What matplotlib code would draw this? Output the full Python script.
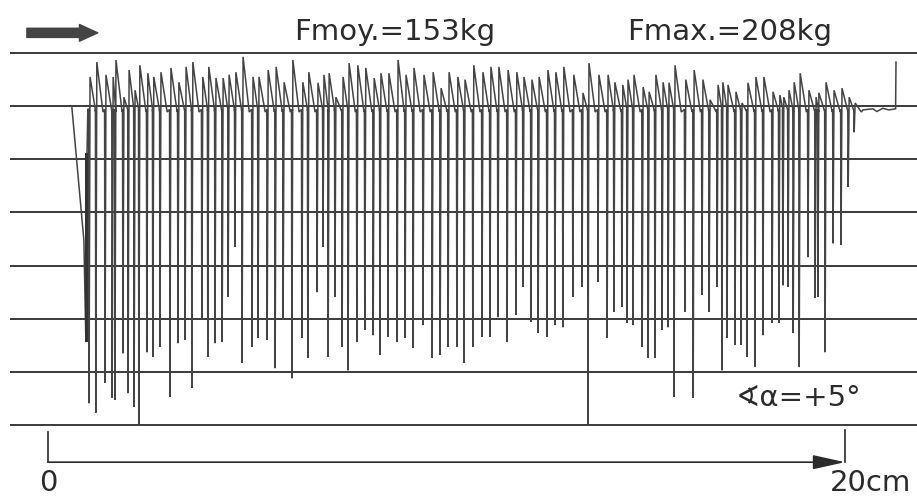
#Force trace recreated from a strip chart recording
import numpy as np
import matplotlib
matplotlib.use('Agg')
import matplotlib.pyplot as plt

#Position of each stroke along the strip (cm)
spike_x = [1.03, 1.20, 1.43, 1.61, 1.68, 1.88, 2.01, 2.16, 2.28, 2.48,
           2.63, 2.81, 3.06, 3.26, 3.44, 3.61, 3.86, 4.01, 4.19, 4.37,
           4.52, 4.69, 4.87, 5.12, 5.27, 5.50, 5.70, 5.90, 6.12, 6.37,
           6.52, 6.75, 6.90, 7.03, 7.20, 7.38, 7.53, 7.75, 7.95, 8.16,
           8.33, 8.53, 8.76, 8.96, 9.16, 9.41, 9.64, 9.84, 10.04, 10.26,
           10.44, 10.66, 10.89, 11.09, 11.29, 11.52, 11.74, 11.92, 12.12, 12.30,
           12.52, 12.72, 12.92, 13.17, 13.40, 13.55, 13.80, 14.03, 14.20, 14.40,
           14.53, 14.68, 14.91, 15.06, 15.23, 15.41, 15.56, 15.71, 15.98, 16.19,
           16.41, 16.59, 16.79, 16.91, 17.04, 17.24, 17.39, 17.54, 17.74, 17.94,
           18.17, 18.34, 18.44, 18.57, 18.70, 18.85, 19.07, 19.25, 19.32, 19.50,
           19.70, 19.90, 20.08, 20.23]

#Lowest point of each stroke (grid divisions, bottom line = 0)
spike_low = [0.41, 0.23, 0.79, 0.51, 0.47, 1.35, 0.60, 0.34, 0.00, 1.37,
             1.28, 1.47, 0.53, 1.54, 1.60, 0.70, 1.98, 1.28, 1.54, 1.56,
             2.41, 3.35, 1.17, 1.47, 1.64, 1.60, 1.07, 1.98, 0.88, 1.64,
             1.26, 2.50, 3.35, 1.28, 2.41, 1.47, 1.03, 1.56, 1.79, 1.69,
             1.32, 1.66, 1.56, 1.64, 1.45, 1.88, 1.26, 1.32, 1.47, 1.47,
             1.17, 1.47, 1.66, 1.66, 2.03, 1.56, 2.07, 2.60, 1.94, 1.73,
             1.66, 1.88, 1.84, 2.41, 2.60, 0.00, 2.69, 1.64, 2.13, 2.22,
             1.92, 1.88, 1.47, 1.26, 1.26, 1.79, 1.84, 0.53, 2.13, 0.51,
             2.45, 2.13, 2.60, 1.03, 1.64, 1.51, 1.51, 1.28, 1.09, 1.69,
             1.92, 1.92, 2.63, 2.60, 1.73, 1.09, 3.16, 2.39, 2.41, 1.37,
             3.42, 3.39, 4.48, 5.51]

#Peak reached after each stroke (grid divisions)
spike_peak = [6.55, 6.83, 6.59, 6.55, 6.87, 6.17, 6.68, 6.30, 6.77, 6.62,
              6.55, 6.64, 6.72, 6.45, 6.74, 6.83, 6.55, 6.74, 6.53, 6.53,
              6.59, 6.64, 6.93, 6.55, 6.55, 6.68, 6.74, 6.45, 6.87, 6.45,
              6.64, 6.44, 6.59, 6.62, 6.17, 6.55, 6.81, 6.77, 6.72, 6.53,
              6.62, 6.62, 6.87, 6.59, 6.72, 6.59, 6.64, 6.34, 6.64, 6.55,
              6.50, 6.77, 6.64, 6.74, 6.74, 6.68, 6.64, 6.55, 6.50, 6.55,
              6.68, 6.64, 6.74, 6.59, 6.25, 6.81, 6.59, 6.59, 6.45, 6.40,
              6.50, 6.59, 6.36, 6.27, 6.59, 6.45, 6.44, 6.77, 6.50, 6.68,
              6.50, 6.12, 6.40, 6.45, 6.40, 6.27, 6.06, 6.44, 6.55, 6.55,
              6.27, 6.21, 6.17, 6.30, 6.45, 6.62, 6.30, 6.17, 6.25, 6.45,
              6.30, 6.34, 6.17, 6.06]

#Pen start (before the first stroke) and tail (after the last stroke)
start_x = [0.60, 0.90, 0.95, 0.98, 1.00]
start_y = [5.97, 3.48, 1.60, 5.17, 5.95]
tail_x = [20.45, 20.70, 20.80, 20.95, 21.10, 21.27, 21.28]
tail_y = [5.93, 5.95, 5.90, 5.96, 5.93, 5.95, 6.83]

baseline = 5.94
grid_levels = [0, 1, 2, 3, 4, 5, 6, 7]

ink = '#2b2b2b'

fig = plt.figure(figsize=(9.17, 4.99), dpi=100)
ax = fig.add_axes([0, 0, 1, 1])
ax.set_xlim(-1.2045, 21.807)
ax.set_ylim(-1.393, 7.998)
ax.axis('off')

#Horizontal ruling of the chart paper
for lv in grid_levels:
    ax.plot([-0.955, 21.807], [lv, lv], color=ink, lw=1.3, solid_capstyle='butt')

#Build the trace: down stroke, rebound to peak, decay to baseline
tx = list(start_x)
ty = list(start_y)
for i in range(len(spike_x)):
    x = spike_x[i]
    if i + 1 < len(spike_x):
        gap = spike_x[i + 1] - x
    else:
        gap = 0.2
    decay = min(0.14, gap * 0.75)
    tx += [x - 0.01, x, x + 0.025, x + 0.04 + decay]
    ty += [baseline, spike_low[i], spike_peak[i], baseline - 0.05]
tx += tail_x
ty += tail_y
ax.plot(tx, ty, color='#444444', lw=1.1, solid_joinstyle='miter')

#Heavier pen mark at the start of the run
ax.plot([0.96, 0.96], [1.60, 5.10], color='#333333', lw=2.2)

#Scale bar 0 - 20 cm
ax.annotate('', xy=(20.0, -0.70), xytext=(0.0, -0.70),
            arrowprops=dict(arrowstyle='-|>,head_length=0.9,head_width=0.2', color=ink, lw=1.2,
                            mutation_scale=22, shrinkA=0, shrinkB=0))
ax.plot([0, 0], [-0.13, -0.70], color=ink, lw=1.2)
ax.plot([20, 20], [-0.09, -0.70], color=ink, lw=1.2)
ax.text(0.0, -1.10, '0', ha='center', va='center', fontsize=21, color=ink)
ax.text(20.63, -1.10, '20cm', ha='center', va='center', fontsize=21, color=ink)

#Direction arrow
ax.annotate('', xy=(1.25, 7.38), xytext=(-0.53, 7.38),
            arrowprops=dict(arrowstyle='simple,head_length=1.1,head_width=1.0,tail_width=0.55',
                            color='#444444', mutation_scale=12, shrinkA=0, shrinkB=0))

#Labels
ax.text(8.71, 7.40, 'Fmoy.=153kg', ha='center', va='center', fontsize=21, color=ink)
ax.text(17.10, 7.40, 'Fmax.=208kg', ha='center', va='center', fontsize=21, color=ink)
ax.text(18.83, 0.50, '∢α=+5°', ha='center', va='center', fontsize=21, color=ink)

fig.savefig('out.png', dpi=100)
